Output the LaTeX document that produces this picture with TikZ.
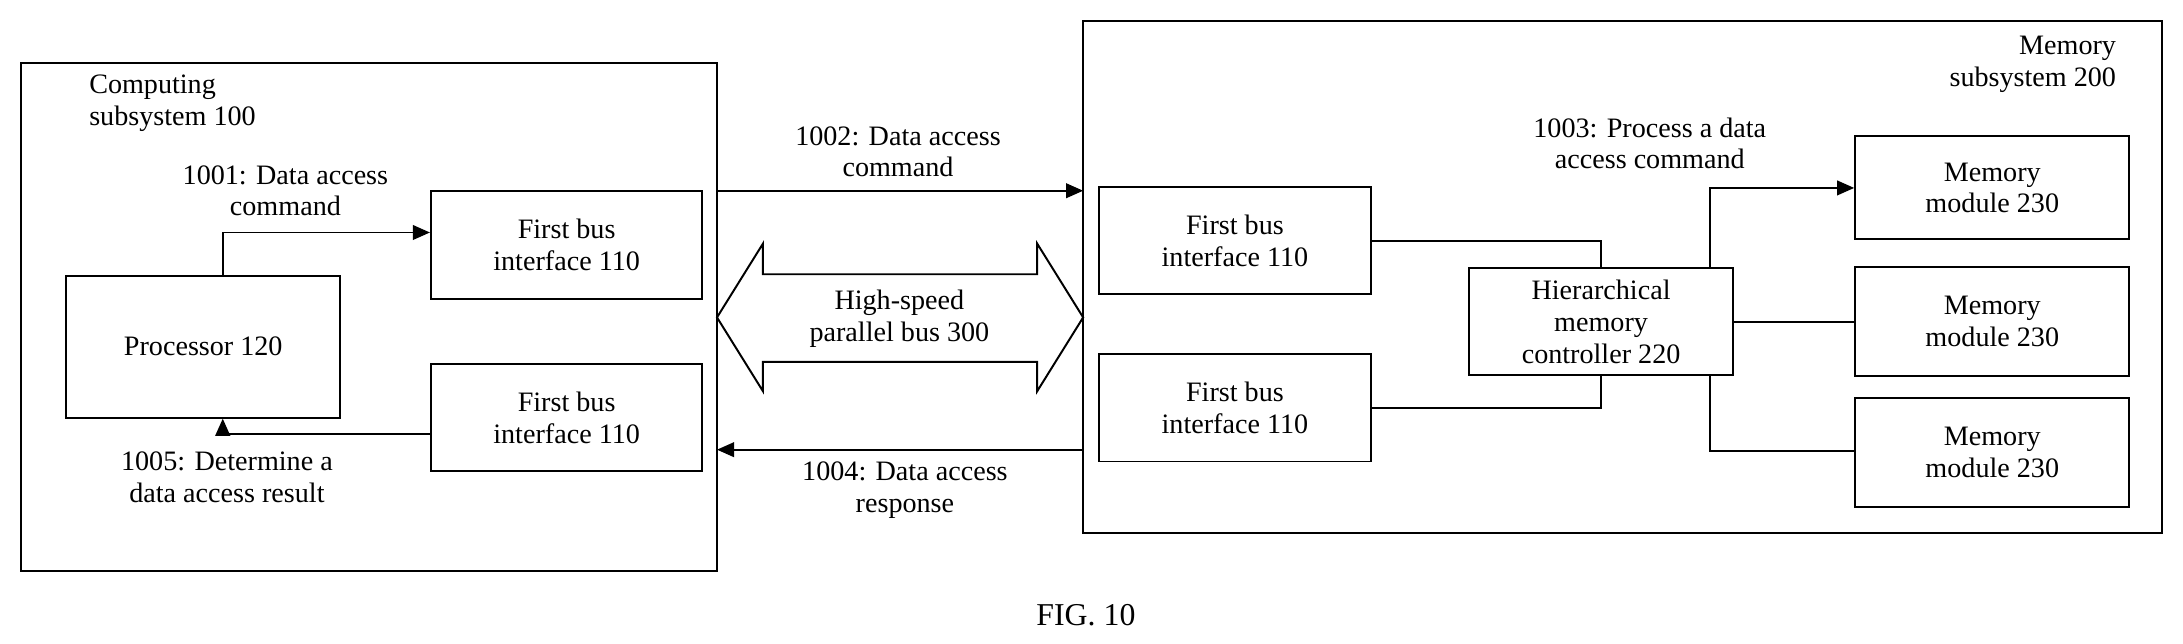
\documentclass[tikz,border=0pt]{standalone}
\usepackage{fontspec}
\setmainfont{Liberation Serif}
\usetikzlibrary{arrows.meta}
\begin{document}
\begin{tikzpicture}
  [x=0.02cm,y=-0.02cm,font=\fontsize{11.5}{13}\selectfont,
   box/.style={draw,thick,minimum width=3.9cm,minimum height=1.54cm,align=center},
   lbl/.style={align=center,inner sep=1pt},
   arr/.style={thick,-{Triangle[length=7pt,width=6pt]}},
   ln/.style={thick}]
  \useasboundingbox (0,0) rectangle (1568,462);

  % computing subsystem
  \draw[thick] (15,45) rectangle (515,410);
  \node[lbl,align=left,anchor=north west] (cs) at (62,52) {Computing\\subsystem 100};
  \node[box] (bif1) at (407,176) {First bus\\interface 110};
  \node[box,minimum width=3.94cm,minimum height=2.04cm] (proc) at (146,249) {Processor 120};
  \node[box] (bif2) at (407,300) {First bus\\interface 110};
  \coordinate (c1) at (160,167);
  \coordinate (c2) at (160,312);
  \draw[arr] (proc.north -| c1) -- (c1) -- (c1 -| bif1.west);
  \draw[arr] (c2 -| bif2.west) -- (c2) -- (proc.south -| c2);
  \node[lbl] (t1001) at (205,137) {1001: Data access\\command};
  \node[lbl] (t1005) at (163,343) {1005: Determine a\\data access result};

  % memory subsystem
  \draw[thick] (778,15) rectangle (1553,383);
  \node[lbl,align=right,anchor=north east] (ms) at (1522,24) {Memory\\subsystem 200};
  \node[box] (bif3) at (887,173) {First bus\\interface 110};
  \node[box] (bif4) at (887,293) {First bus\\interface 110};
  \node[box,minimum width=3.8cm] (hmc) at (1150,231) {Hierarchical\\memory\\controller 220};
  \node[box,minimum width=3.94cm,minimum height=1.48cm] (mm1) at (1431,135) {Memory\\module 230};
  \node[box,minimum width=3.94cm,minimum height=1.56cm] (mm2) at (1431,231) {Memory\\module 230};
  \node[box,minimum width=3.94cm,minimum height=1.56cm] (mm3) at (1431,325) {Memory\\module 230};
  \node[lbl] (t1003) at (1185,103) {1003: Process a data\\access command};
  \coordinate (m1) at (1228,135);
  \coordinate (m3) at (1228,324);
  \draw[ln] (bif3.east) -- (bif3.east -| hmc.north) -- (hmc.north);
  \draw[ln] (bif4.east) -- (bif4.east -| hmc.south) -- (hmc.south);
  \draw[arr] (hmc.north -| m1) -- (m1) -- (m1 -| mm1.west);
  \draw[ln] (hmc.east) -- (mm2.west);
  \draw[ln] (hmc.south -| m3) -- (m3) -- (m3 -| mm3.west);

  % bus between subsystems
  \coordinate (b1) at (515,137);
  \coordinate (b2) at (778,323);
  \draw[arr] (b1) -- (b1 -| b2);
  \draw[arr] (b2) -- (b2 -| b1);
  \node[lbl] (t1002) at (645,109) {1002: Data access\\command};
  \node[lbl] (t1004) at (650,352) {1004: Data access\\response};
  \draw[thick] (515,228) -- (548,175) -- (548,197) -- (745,197) -- (745,175)
    -- (778,228) -- (745,281) -- (745,260) -- (548,260) -- (548,281) -- cycle;
  \node[lbl] (tbus) at (646,229) {High-speed\\parallel bus 300};

  \node (fig) at (780,442) {\fontsize{13}{15}\selectfont FIG. 10};
\end{tikzpicture}
\end{document}
